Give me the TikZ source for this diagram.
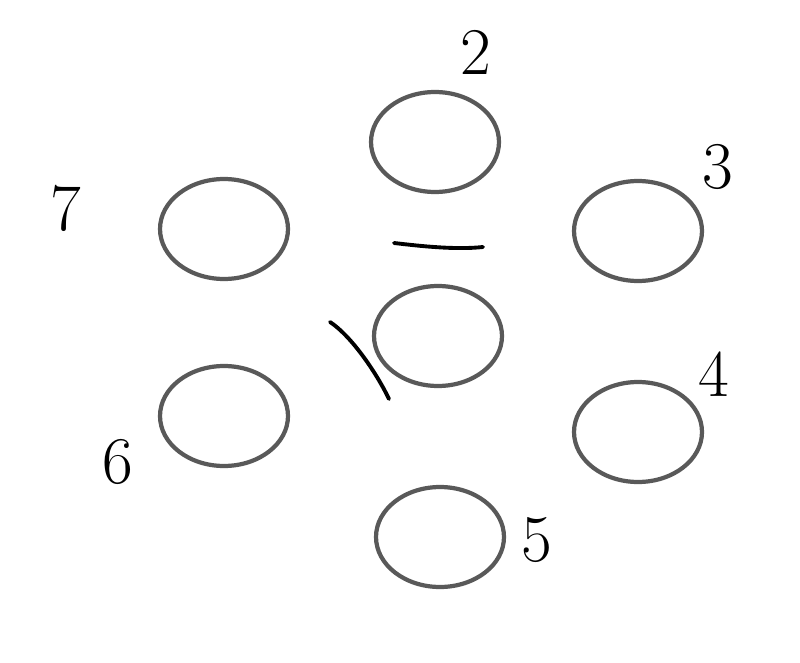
\documentclass[tikz,border=0pt]{standalone}
\usepackage{fontspec}
\usepackage{tikz}
\usetikzlibrary{shapes.geometric,positioning}

\begin{document}
\begin{tikzpicture}[x = 0.02cm, y = -0.02cm,
   ring/.style = {ellipse, draw = black!65, line width = 2.4pt, minimum width = 2.56cm, minimum height = 2cm},
   num/.style = {font = \fontsize{38}{38}\selectfont, inner sep = 0pt},
   stroke/.style = {line width = 2.2pt, line cap = round, line join = round}]
   \useasboundingbox (0,0) rectangle (800,662);
   \node[ring] (e_2) at (435,142) {};
   \node[ring] (e_7) at (224,229) {};
   \node[ring] (e_3) at (638,231) {};
   \node[ring] (e_1) at (438,336) {};
   \node[ring] (e_6) at (224,416) {};
   \node[ring] (e_4) at (638,432) {};
   \node[ring] (e_5) at (440,537) {};
   \node[num] (l_2) at (476,52) {2};
   \node[num] (l_3) at (718,167) {3};
   \node[num] (l_7) at (66,208) {7};
   \node[num] (l_4) at (714,374) {4};
   \node[num] (l_5) at (537,540) {5};
   \node[num] (l_6) at (118,462) {6};
   \draw[stroke] (394,243) .. controls (420,246) and (455,250) .. (483,247);
   \draw[stroke] (330,322) .. controls (350,335) and (375,370) .. (389,399);
\end{tikzpicture}
\end{document}
